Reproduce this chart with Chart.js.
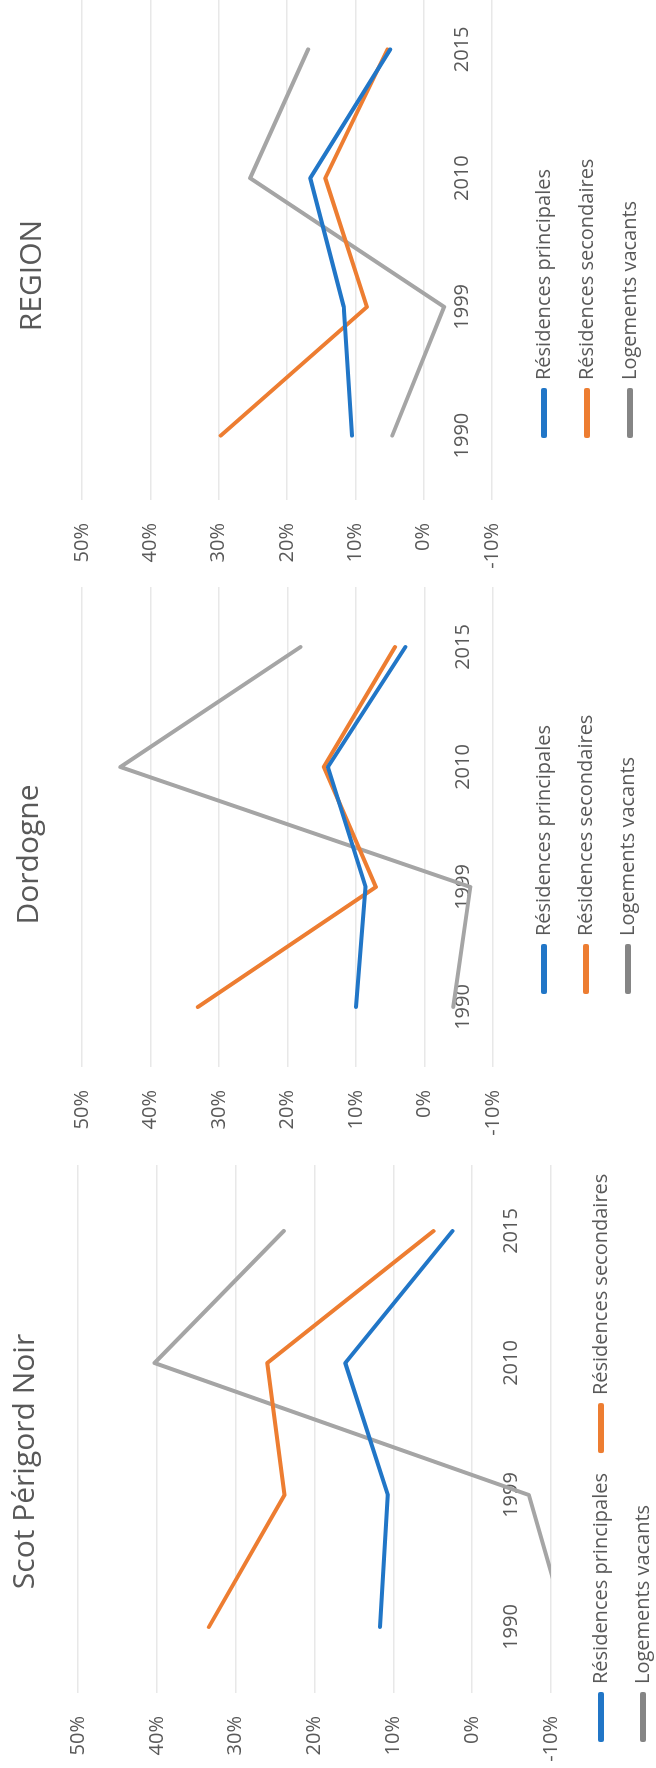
<!DOCTYPE html>
<html lang="fr">
<head>
<meta charset="utf-8">
<title>Évolution des logements 1990-2015</title>
<script src="https://cdn.jsdelivr.net/npm/chart.js@4.4.1/dist/chart.umd.min.js"></script>
<style>
  html, body { margin: 0; padding: 0; background: #fff; overflow: hidden; }
  body { width: 656px; height: 1768px; position: relative; }
  /* the three panels sit side by side on a landscape sheet that is turned a quarter turn */
  #sheet {
    position: absolute; left: 0; top: 0;
    width: 1768px; height: 656px;
    transform-origin: 0 0;
    transform: translate(0, 1768px) rotate(-90deg);
  }
  #sheet canvas { position: absolute; top: 0; }
</style>
</head>
<body>
<div id="sheet">
  <canvas id="scot" width="660" height="656" style="left:-40px"></canvas>
  <canvas id="dordogne" width="568" height="656" style="left:630px"></canvas>
  <canvas id="region" width="590" height="656" style="left:1198px"></canvas>
</div>
<script>
const years = ['1990', '1999', '2010', '2015'];
const seriesNames = ['Résidences principales', 'Résidences secondaires', 'Logements vacants'];
const percentTicks = [-10, 0, 10, 20, 30, 40, 50];

// variation en %
const scotPrincipales = [11.7, 10.7, 16.1, 2.5];
const scotSecondaires = [33.4, 23.8, 26.0, 4.9];
const scotVacants = [-12.0, -7.2, 40.3, 23.9];

const dordognePrincipales = [10.0, 8.6, 14.1, 2.8];
const dordogneSecondaires = [33.1, 7.1, 14.7, 4.3];
const dordogneVacants = [-4.2, -6.7, 44.4, 18.1];

const regionPrincipales = [10.5, 11.7, 16.6, 4.9];
const regionSecondaires = [29.7, 8.3, 14.4, 5.3];
const regionVacants = [4.6, -3.0, 25.4, 16.9];

const seriesColors = ['#2176c7', '#ed7d31', '#a5a5a5'];
const legendColors = ['#2176c7', '#ed7d31', '#858585'];

Chart.defaults.font.family = '"Open Sans", sans-serif';
Chart.defaults.color = '#595959';

// moves the title and legend blocks after Chart.js has placed them
const nudge = {
  id: 'nudge',
  afterLayout(chart, args, opts) {
    const shift = (box, dx, dy) => {
      if (!box) return;
      box.left += dx; box.right += dx;
      box.top += dy; box.bottom += dy;
    };
    shift(chart.titleBlock, opts.titleX || 0, 0);
    shift(chart.legend, opts.legendX || 0, opts.legendY || 0);
  }
};

function series(i, values) {
  return {
    label: seriesNames[i],
    data: values,
    borderColor: seriesColors[i],
    backgroundColor: seriesColors[i],
    borderWidth: 4,
    borderJoinStyle: 'round',
    borderCapStyle: 'round',
    pointRadius: 0,
    tension: 0
  };
}

function legendItems(chart) {
  const items = Chart.defaults.plugins.legend.labels.generateLabels(chart);
  items.forEach((item, i) => {
    item.fillStyle = legendColors[i];
    item.strokeStyle = legendColors[i];
  });
  return items;
}

function drawPanel(canvasId, title, principales, secondaires, vacants, fit) {
  return new Chart(document.getElementById(canvasId), {
    type: 'line',
    data: {
      labels: years,
      datasets: [series(0, principales), series(1, secondaires), series(2, vacants)]
    },
    options: {
      responsive: false,
      animation: false,
      devicePixelRatio: 1,
      events: [],
      layout: { padding: { left: 0, top: 0, right: fit.padRight, bottom: fit.padBottom } },
      scales: {
        x: {
          type: 'category',
          position: { y: 0 },
          offset: true,
          grid: { display: false },
          border: { display: false },
          ticks: { padding: 19, font: { size: 20 } }
        },
        y: {
          min: percentTicks[0],
          max: percentTicks[percentTicks.length - 1],
          grid: { color: '#e8e8e8', lineWidth: 1.5, drawTicks: false },
          border: { display: false },
          ticks: {
            stepSize: 10,
            padding: 23,
            font: { size: 20 },
            callback: (v) => v + '%'
          },
          afterFit: (scale) => { scale.width = fit.axisWidth; }
        }
      },
      plugins: {
        title: {
          display: true,
          text: title,
          color: '#595959',
          font: { size: 30, weight: 'normal' },
          padding: { top: fit.titleTop, bottom: fit.titleBottom }
        },
        legend: {
          position: 'bottom',
          align: 'start',
          fullSize: fit.legendFull,
          labels: {
            boxWidth: 46,
            boxHeight: 2,
            padding: fit.legendGap,
            font: { size: 20 },
            color: '#595959',
            generateLabels: legendItems
          }
        },
        tooltip: { enabled: false },
        nudge: { titleX: fit.titleX, legendX: fit.legendX, legendY: fit.legendY }
      }
    },
    plugins: [nudge]
  });
}

drawPanel('scot', 'Scot Périgord Noir', scotPrincipales, scotSecondaires, scotVacants, {
  axisWidth: 115, padRight: 17, padBottom: 11, titleTop: 7, titleBottom: 35,
  legendFull: true, legendGap: 22, titleX: 25, legendX: 46, legendY: 18
});

drawPanel('dordogne', 'Dordogne', dordognePrincipales, dordogneSecondaires, dordogneVacants, {
  axisWidth: 71, padRight: 17, padBottom: 27, titleTop: 11, titleBottom: 35,
  legendFull: false, legendGap: 22, titleX: 8, legendX: 53, legendY: 19
});

drawPanel('region', 'REGION', regionPrincipales, regionSecondaires, regionVacants, {
  axisWidth: 70, padRight: 5, padBottom: 25, titleTop: 14, titleBottom: 32,
  legendFull: false, legendGap: 23, titleX: 2, legendX: 41, legendY: 19
});
</script>
</body>
</html>
